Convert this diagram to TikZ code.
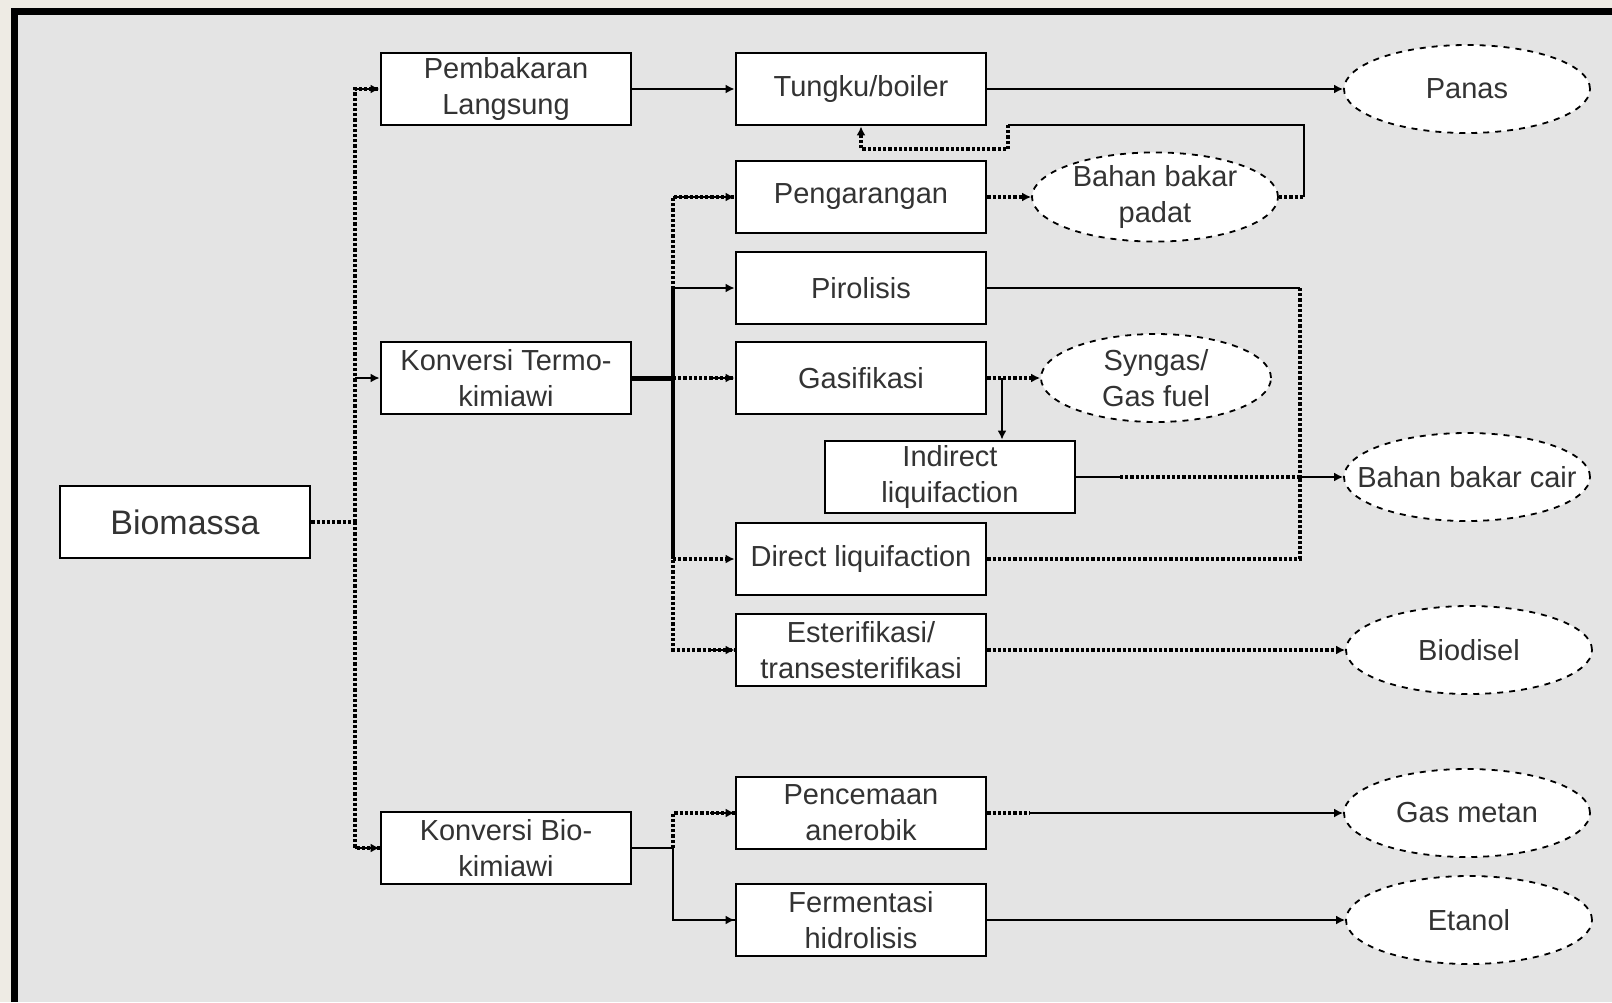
\documentclass[tikz,border=0pt]{standalone}
\usepackage{fontspec}
\setmainfont{Liberation Sans}
\usetikzlibrary{arrows.meta,shapes.geometric}
\definecolor{paper}{HTML}{EEEBE4}
\definecolor{panel}{HTML}{E4E4E4}

\begin{document}
\begin{tikzpicture}[x=0.5pt, y=-0.5pt, >={Latex[length=4.5pt,width=4.5pt]},
	every node/.style={font=\fontsize{14.5}{18}\selectfont, text=black!80, align=center},
	proc/.style={draw, line width=1.4pt, fill=white, minimum width=125pt, minimum height=36pt, inner sep=1pt},
	prod/.style={ellipse, draw, dashed, line width=0.9pt, fill=white, minimum width=123pt, minimum height=44pt, inner sep=0pt},
	link/.style={line width=1.3pt},
	dot/.style={line width=1.6pt, densely dotted}]
	\useasboundingbox (0,0) rectangle (1612,1002);
	\fill[paper] (0,0) rectangle (1612,1002);
	\fill[panel] (14,11) rectangle (1612,1002);
	\draw[line width=3.5pt] (14,1002) -- (14,11) -- (1612,11);

	\node[proc, font=\fontsize{17}{20}\selectfont] (bio) at (185,522) {Biomassa};
	\node[proc] (pl) at (506,89) {Pembakaran\\Langsung};
	\node[proc] (kt) at (506,378) {Konversi Termo-\\kimiawi};
	\node[proc] (kb) at (506,848) {Konversi Bio-\\kimiawi};
	\node[proc] (tb) at (861,89) {Tungku/boiler};
	\node[proc] (pg) at (861,197) {Pengarangan};
	\node[proc] (pr) at (861,288) {Pirolisis};
	\node[proc] (gs) at (861,378) {Gasifikasi};
	\node[proc] (il) at (950,477) {Indirect\\liquifaction};
	\node[proc] (dl) at (861,559) {Direct liquifaction};
	\node[proc] (es) at (861,650) {Esterifikasi/\\transesterifikasi};
	\node[proc] (pc) at (861,813) {Pencemaan\\anerobik};
	\node[proc] (fh) at (861,920) {Fermentasi\\hidrolisis};

	\node[prod] (panas) at (1467,89) {Panas};
	\node[prod] (bbp) at (1155,197) {Bahan bakar\\padat};
	\node[prod, minimum width=115pt] (syn) at (1156,378) {Syngas/\\Gas fuel};
	\node[prod, inner xsep=-13pt] (bbc) at (1467,477) {Bahan bakar cair};
	\node[prod] (bds) at (1469,650) {Biodisel};
	\node[prod] (gm) at (1467,813) {Gas metan};
	\node[prod] (et) at (1469,920) {Etanol};

	\coordinate (j1) at (355,522);
	\coordinate (j2) at (673,378);
	\coordinate (j3) at (673,848);
	\coordinate (j4) at (1300,477);
	\coordinate (j5) at (1002,378);

	\draw[dot] (bio.east) -- (j1);
	\draw[dot] (j1) |- (pl.west);
	\draw[dot] (j1) |- (kb.west);
	\draw[->, link] (355,89) -- (pl.west);
	\draw[->, link] (355,378) -- (kt.west);
	\draw[->, link] (355,848) -- (kb.west);

	\draw[line width=2.5pt] (kt.east) -- (j2);
	\draw[dot] (j2) |- (pg.west);
	\draw[line width=2pt] (j2 |- pr.west) -- (j2 |- dl.west);
	\draw[dot] (j2) |- (es.west);
	\draw[dot] (j2) -- (gs.west);
	\draw[->, link] (673,197) -- (pg.west);
	\draw[->, link] (673,288) -- (pr.west);
	\draw[->, link] (710,378) -- (gs.west);
	\draw[->, dot] (673,559) -- (dl.west);
	\draw[->, link] (710,650) -- (es.west);

	\draw[link] (kb.east) -- (j3);
	\draw[dot] (j3) |- (pc.west);
	\draw[link] (j3) |- (fh.west);
	\draw[->, link] (710,813) -- (pc.west);
	\draw[->, link] (710,920) -- (fh.west);

	\draw[->, link] (pl.east) -- (tb.west);
	\draw[->, link] (tb.east) -- (panas.west);
	\draw[->, dot] (pg.east) -- (bbp.west);
	\draw[dot] (bbp.east) -- (1304,197);
	\draw[link] (1304,197) -- (1304,125) -- (1008,125);
	\draw[->, dot] (1008,125) -- (1008,149) -- (861,149) -- (tb.south);
	\draw[link] (pr.east) -- (1300,288);
	\draw[dot] (1300,288) -- (j4);
	\draw[dot] (dl.east) -| (j4);
	\draw[->, dot] (gs.east) -- (syn.west);
	\draw[->, link] (j5) -- (j5 |- il.north);
	\draw[link] (il.east) -- (1120,477);
	\draw[dot] (1120,477) -- (j4);
	\draw[->, link] (j4) -- (bbc.west);
	\draw[->, dot] (es.east) -- (bds.west);
	\draw[dot] (pc.east) -- (1030,813);
	\draw[->, link] (1030,813) -- (gm.west);
	\draw[->, link] (fh.east) -- (et.west);
\end{tikzpicture}
\end{document}
